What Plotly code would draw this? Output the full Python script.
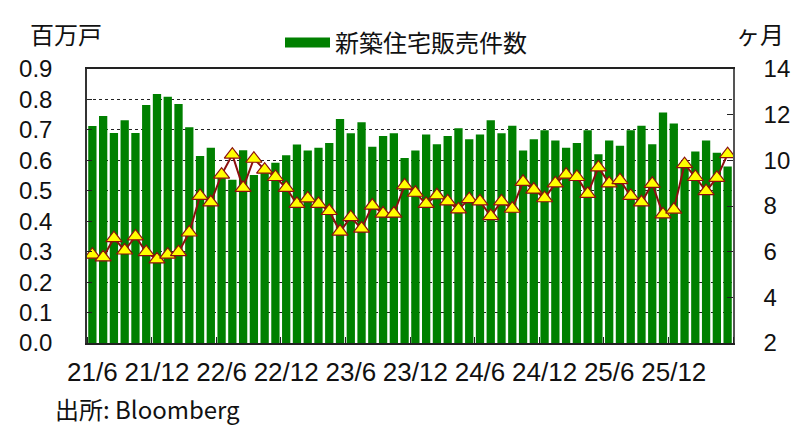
import plotly.graph_objects as go

# Month categories 2021/6 .. 2026/5
months = [f"{y % 100}/{m}" for y in range(2021, 2027) for m in range(1, 13)]
months = months[5:65]

sales = [0.713, 0.746, 0.690, 0.732, 0.690, 0.782, 0.818, 0.809, 0.785, 0.709,
         0.614, 0.641, 0.555, 0.536, 0.633, 0.552, 0.575, 0.592, 0.617, 0.652,
         0.632, 0.641, 0.657, 0.736, 0.689, 0.725, 0.645, 0.680, 0.689, 0.608,
         0.632, 0.685, 0.653, 0.680, 0.705, 0.669, 0.685, 0.732, 0.689, 0.714,
         0.632, 0.669, 0.699, 0.665, 0.641, 0.657, 0.699, 0.620, 0.665, 0.648,
         0.699, 0.714, 0.653, 0.757, 0.721, 0.590, 0.629, 0.665, 0.625, 0.580]

supply = [5.87, 5.75, 6.59, 6.05, 6.67, 5.98, 5.66, 5.87, 5.98, 6.84,
          8.44, 8.16, 9.37, 10.25, 8.79, 10.07, 9.59, 9.27, 8.79, 8.09,
          8.33, 8.09, 7.78, 6.88, 7.51, 7.01, 8.02, 7.67, 7.67, 8.90,
          8.58, 8.09, 8.47, 8.20, 7.85, 8.30, 8.20, 7.56, 8.20, 7.88,
          9.06, 8.72, 8.34, 8.99, 9.37, 9.27, 8.53, 9.69, 8.99, 9.13,
          8.44, 8.16, 8.97, 7.63, 7.84, 9.83, 9.27, 8.65, 9.23, 10.27]

bar_name = "新築住宅販売件数"
left_title = "百万戸"
right_title = "ヶ月"
source = "出所: Bloomberg"

x = list(range(len(months)))
label_idx = [i for i, m in enumerate(months) if m.endswith("/6") or m.endswith("/12")]
label_txt = [months[i] for i in label_idx]

GREEN = "#008000"
RED = "#8B1010"
LAT = "Liberation Sans, Arial, sans-serif"
CJK = "Noto Sans CJK JP, sans-serif"

fig = go.Figure()
fig.add_trace(go.Bar(x=x, y=sales, marker=dict(color=GREEN, line=dict(width=0)),
                     showlegend=False, name=bar_name))
fig.add_trace(go.Scatter(x=x, y=supply, yaxis="y2", mode="lines+markers",
                         line=dict(color=RED, width=2),
                         marker=dict(symbol="triangle-up", size=14, color="#FFFF00",
                                     line=dict(color=RED, width=1.2)),
                         showlegend=False, name=right_title))
# legend proxy for the bar series
fig.add_trace(go.Scatter(x=[None], y=[None], mode="lines",
                         line=dict(color=GREEN, width=12), name=bar_name,
                         showlegend=True))

# page is drawn with an 8px body margin -> compensate
OFF = 8
PAGE_W, PAGE_H = 801, 430
W, H = PAGE_W - OFF, PAGE_H - OFF
PL, PR, PT, PB = 87, 733, 55, 343          # plot area in page pixels
L, T = PL - OFF, PT - OFF
R, B = PAGE_W - PR, PAGE_H - PB
PW, PH = W - L - R, H - T - B


def px_x(px):
    return (px - PL) / PW


def px_y(py):
    return (PB - py) / PH


fig.update_layout(
    width=W, height=H,
    margin=dict(l=L, r=R, t=T, b=B, pad=0),
    paper_bgcolor="white", plot_bgcolor="white",
    bargap=0.23,
    font=dict(family=LAT, color="#111", size=24),
    legend=dict(orientation="h", xref="paper", yref="paper",
                x=px_x(280), xanchor="left", y=px_y(4), yanchor="top",
                font=dict(family=CJK, size=24, color="#111"),
                bgcolor="rgba(0,0,0,0)", itemwidth=45, tracegroupgap=0),
    xaxis=dict(range=[-0.5, len(months) - 0.5], tickmode="array",
               tickvals=label_idx, ticktext=label_txt, ticks="",
               tickfont=dict(size=26, family=LAT), ticklabelstandoff=5,
               showgrid=False, zeroline=False,
               showline=True, linecolor="#222", linewidth=1.5, mirror=True,
               minor=dict(tick0=5.5, dtick=6, ticks="inside", ticklen=6,
                          tickcolor="#222", tickwidth=1, showgrid=False),
               automargin=False, fixedrange=True),
    yaxis=dict(range=[0, 0.9], dtick=0.1, tick0=0, tickformat=".1f",
               ticks="inside", ticklen=5, tickcolor="#222",
               tickfont=dict(size=24, family=LAT), ticklabelstandoff=28,
               showgrid=True, gridcolor="#222", griddash="dot", gridwidth=1,
               zeroline=False, showline=True, linecolor="#333", linewidth=1.5,
               mirror=True, automargin=False),
    yaxis2=dict(range=[2, 14], dtick=2, tick0=2, overlaying="y", side="right",
                ticks="inside", ticklen=6, tickcolor="#222",
                tickfont=dict(size=24, family=LAT), ticklabelstandoff=24,
                showgrid=False, zeroline=False, showline=True,
                linecolor="#555", linewidth=1.5, automargin=False),
    annotations=[
        dict(text=left_title, xref="paper", yref="paper", x=px_x(66), y=px_y(18),
             xanchor="center", yanchor="middle", showarrow=False,
             font=dict(family=CJK, size=24, color="#111")),
        dict(text=right_title, xref="paper", yref="paper", x=px_x(760), y=px_y(18),
             xanchor="center", yanchor="middle", showarrow=False,
             font=dict(family=CJK, size=24, color="#111")),
        dict(text=source, xref="paper", yref="paper", x=px_x(53), y=px_y(412),
             xanchor="left", yanchor="middle", showarrow=False,
             font=dict(family=CJK, size=24, color="#111")),
    ],
)

fig.write_html("out.html")
